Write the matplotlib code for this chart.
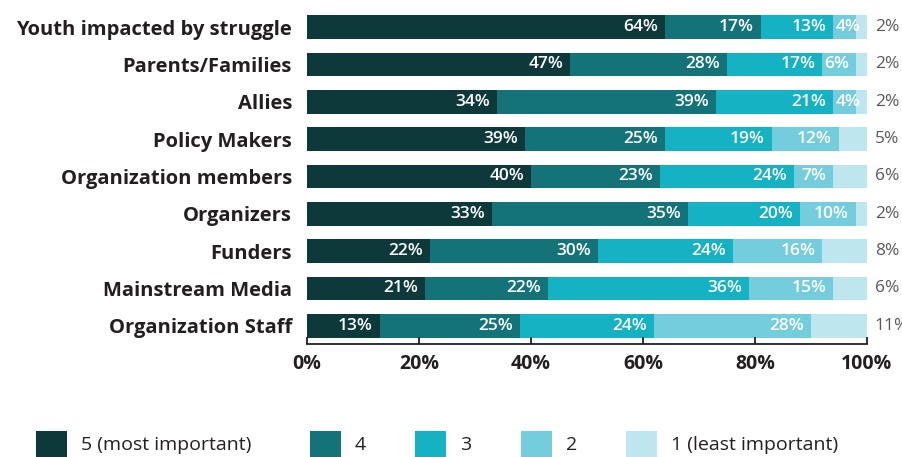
import matplotlib
matplotlib.use("Agg")
import matplotlib.pyplot as plt
from matplotlib.patches import Rectangle
import numpy as np

plt.rcParams['font.family'] = ['Open Sans', 'DejaVu Sans']

# Groups, top to bottom
groups = ['Youth impacted by struggle', 'Parents/Families', 'Allies',
          'Policy Makers', 'Organization members', 'Organizers', 'Funders',
          'Mainstream Media', 'Organization Staff']

# share of respondents per importance rating (%)
most_5 = [64, 47, 34, 39, 40, 33, 22, 21, 13]
rate_4 = [17, 28, 39, 25, 23, 35, 30, 22, 25]
rate_3 = [13, 17, 21, 19, 24, 20, 24, 36, 24]
rate_2 = [4, 6, 4, 12, 7, 10, 16, 15, 28]
least_1 = [2, 2, 2, 5, 6, 2, 8, 6, 11]

series = [most_5, rate_4, rate_3, rate_2, least_1]
legend_labels = ['5 (most important)', '4', '3', '2', '1 (least important)']
colors = ['#0e393b', '#147378', '#14b2c2', '#74cddc', '#bee6ef']
ticks = [0, 20, 40, 60, 80, 100]

W, H = 903, 457
fig = plt.figure(figsize=(W / 100, H / 100), dpi=100)
ax = fig.add_axes([307 / W, 1 - 344 / H, 560 / W, 330 / H])

y = np.arange(len(groups))
left = np.zeros(len(groups))
for i, (vals, col) in enumerate(zip(series, colors)):
    vals = np.array(vals, dtype=float)
    ax.barh(y, vals, left=left, height=0.633, color=col, edgecolor='none')
    for yi, (l, v) in enumerate(zip(left, vals)):
        if i == len(series) - 1:
            # outside label for the last category
            ax.annotate(f'{int(v)}%', xy=(100, yi), xytext=(5.5, 0),
                        textcoords='offset points', ha='left', va='center',
                        fontsize=12.5, color='#58595b', annotation_clip=False)
        elif v < 6:
            ax.text(l + v / 2 + 0.6, yi, f'{int(v)}%', ha='center', va='center',
                    fontsize=12.5, color='white', fontweight='semibold')
        else:
            ax.annotate(f'{int(v)}%', xy=(l + v, yi), xytext=(-5, 0),
                        textcoords='offset points', ha='right', va='center',
                        fontsize=12.5, color='white', fontweight='semibold')
    left += vals

ax.set_xlim(0, 100)
ax.set_ylim(8.49, -0.35)
ax.set_yticks(y)
ax.set_yticklabels(groups, fontsize=14.5, fontweight='bold', color='#231f20')
ax.tick_params(axis='y', length=0, pad=10.8)
ax.set_xticks(ticks)
ax.set_xticklabels([f'{t}%' for t in ticks], fontsize=14, fontweight='bold',
                   color='#231f20')
ax.tick_params(axis='x', direction='in', length=5, width=1.3, color='#231f20',
               pad=7.5)
for s in ['top', 'right', 'left']:
    ax.spines[s].set_visible(False)
ax.spines['bottom'].set_color('#231f20')
ax.spines['bottom'].set_linewidth(1.3)

# legend drawn by hand along the bottom edge
leg_x = [36, 310, 415, 521, 626]
for x0, lab, col in zip(leg_x, legend_labels, colors):
    fig.patches.append(Rectangle((x0 / W, 0), 31 / W, 26 / H, facecolor=col,
                                 edgecolor='none', transform=fig.transFigure))
    fig.text((x0 + 45) / W, 1 - 445 / H, lab, ha='left', va='center',
             fontsize=14, color='#231f20')

fig.savefig('out.png', dpi=100)
